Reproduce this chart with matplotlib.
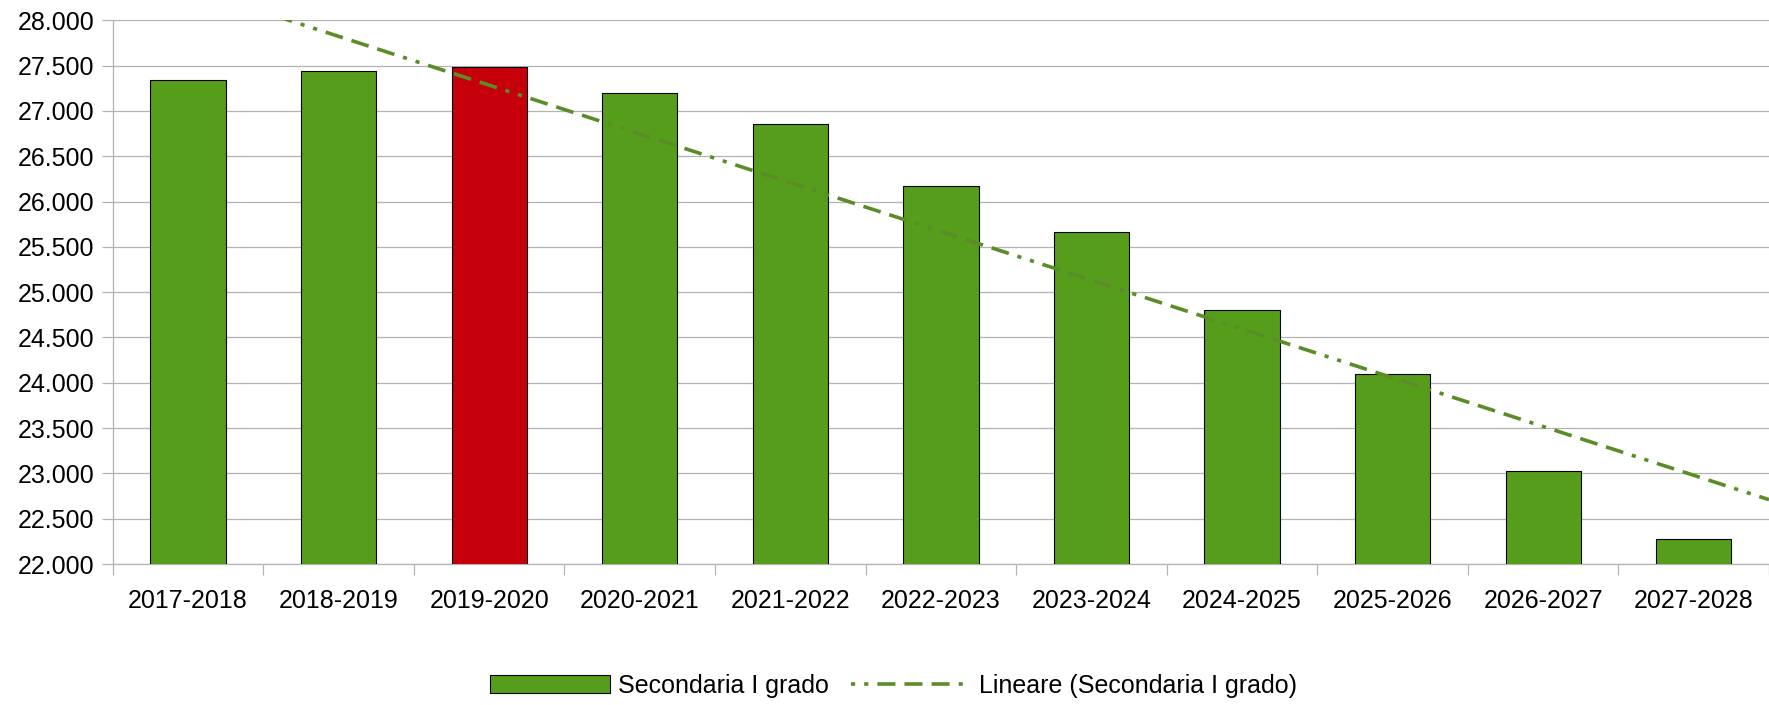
import numpy as np
import matplotlib
matplotlib.use("Agg")
import matplotlib.pyplot as plt
from matplotlib.ticker import FuncFormatter, FixedLocator
from matplotlib.patches import Patch
from matplotlib.lines import Line2D

categories = ["2017-2018", "2018-2019", "2019-2020", "2020-2021", "2021-2022",
              "2022-2023", "2023-2024", "2024-2025", "2025-2026", "2026-2027",
              "2027-2028"]
values = [27345, 27445, 27490, 27200, 26860, 26167, 25663, 24800, 24100, 23027, 22273]
highlight_index = 2
series_name = "Secondaria I grado"
trend_name = "Lineare (Secondaria I grado)"

GREEN = "#579d1c"
RED = "#c5000b"
TREND = "#5a8c28"
GRID = "#b3b3b3"

plt.rcParams["font.family"] = ["Liberation Sans", "DejaVu Sans"]
plt.rcParams["lines.scale_dashes"] = False

fig = plt.figure(figsize=(17.69, 7.05), dpi=100)
ax = fig.add_axes([112.8 / 1769, 1 - 564 / 705, 1 - 112.8 / 1769, (564 - 20.3) / 705])

x = np.arange(len(categories))
colors = [RED if i == highlight_index else GREEN for i in range(len(values))]
ax.bar(x, values, width=0.5, color=colors, edgecolor="black", linewidth=0.8, zorder=3)

# linear trend line
slope, intercept = np.polyfit(x, values, 1)
xt = np.array([-0.5, len(categories) - 0.5])
dash = (0, (13, 6.5, 13, 6.5, 13, 6.5, 3, 6.5, 3, 6.5))
ax.plot(xt, slope * xt + intercept, color=TREND, linewidth=2.6, linestyle=dash,
        dash_capstyle="butt", zorder=4)

ax.set_xlim(-0.5, len(categories) - 0.5)
ax.set_ylim(22000, 28000)
ax.set_yticks(np.arange(22000, 28001, 500))
ax.yaxis.set_major_formatter(FuncFormatter(lambda v, p: f"{int(v):,}".replace(",", ".")))
ax.set_xticks(x)
ax.set_xticklabels(categories)
ax.xaxis.set_minor_locator(FixedLocator(np.arange(-0.5, len(categories), 1.0)))

ax.tick_params(axis="x", which="major", length=0, pad=18, labelsize=18, colors="black")
ax.tick_params(axis="x", which="minor", length=8, width=0.9, color=GRID)
ax.tick_params(axis="y", which="major", length=8, width=0.9, color=GRID, pad=5,
               labelsize=18, labelcolor="black")

ax.grid(axis="y", color=GRID, linewidth=0.9, zorder=0)
ax.set_axisbelow(True)
for s in ["top", "right"]:
    ax.spines[s].set_visible(False)
for s in ["left", "bottom"]:
    ax.spines[s].set_color(GRID)
    ax.spines[s].set_linewidth(0.9)

handles = [Patch(facecolor=GREEN, edgecolor="black", linewidth=0.8),
           Line2D([0], [0], color=TREND, linewidth=2.6, linestyle=(0, (3, 6.5, 3, 6.5, 13, 6.5, 13, 6.5, 13, 6.5)),
                  dash_capstyle="butt")]
fig.legend(handles, [series_name, trend_name], loc="center", bbox_to_anchor=(0.505, 0.027),
           ncol=2, frameon=False, fontsize=18, handlelength=4.8, handleheight=0.75,
           handletextpad=0.3, columnspacing=0.9)

fig.savefig("out.png", dpi=100)
